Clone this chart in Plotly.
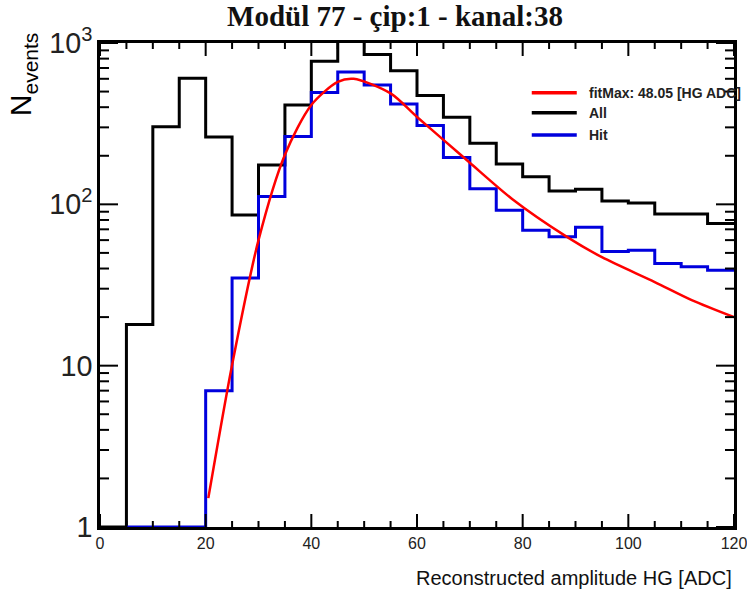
import plotly.graph_objects as go

# ---------------- data ----------------
bin_edges = [0, 5, 10, 15, 20, 25, 30, 35, 40, 45, 50, 55, 60,
             65, 70, 75, 80, 85, 90, 95, 100, 105, 110, 115, 120]

# None = bin not drawn, 0 = empty bin (drawn on the floor of the log axis)
all_counts = [0, 18, 303, 605, 261, 86, 175, 413, 770, 1150, 850, 674,
              472, 347, 239, 178, 148, 121, 124, 105, 102, 87, 87, 76]

hit_counts = [None, 0, 0, 0, 7, 35, 112, 263, 493, 660, 550, 419,
              308, 195, 125, 92, 69, 63, 72, 51, 52, 43, 41, 39]

fit_x = [20.5, 25, 30, 35, 40, 45, 48, 55, 60, 65, 70, 78, 88, 95, 105, 112, 120]
fit_y = [1.51, 10.1, 60, 203, 413, 574, 600, 487, 348, 251, 181, 108, 64, 47,
         33, 25.5, 20]

x_major_ticks = [0, 20, 40, 60, 80, 100, 120]
x_minor_ticks = [5, 10, 15, 25, 30, 35, 45, 50, 55, 65, 70, 75, 85, 90, 95,
                 105, 110, 115]
y_major_ticks = [1, 10, 100, 1000]
y_minor_ticks = [2, 3, 4, 5, 6, 7, 8, 9, 20, 30, 40, 50, 60, 70, 80, 90,
                 200, 300, 400, 500, 600, 700, 800, 900]

legend_labels = ["fitMax: 48.05 [HG ADC]", "All", "Hit"]
title_text = "Modül 77 - çip:1 - kanal:38"
x_title = "Reconstructed amplitude HG [ADC]"
y_title = "N<sub>events</sub>"

X_MIN, X_MAX = 0, 120
Y_MIN, Y_MAX = 1, 1000          # log axis: 10^0 .. 10^3
Y_DECADES = 3
Y_FLOOR = Y_MIN                 # empty bins are drawn on the floor

W, H = 747, 596
M_L, M_R, M_T, M_B = 100, 13, 43, 69
PLOT_W = W - M_L - M_R
PLOT_H = H - M_T - M_B


def step(counts):
    ys = [None if c is None else (c if c > 0 else Y_FLOOR) for c in counts]
    return bin_edges, ys + [ys[-1]]


fig = go.Figure()

ax_, ay_ = step(all_counts)
fig.add_trace(go.Scatter(x=ax_, y=ay_, mode="lines", line_shape="hv",
                         line=dict(color="black", width=3), name="All",
                         hoverinfo="skip"))
hx, hy = step(hit_counts)
fig.add_trace(go.Scatter(x=hx, y=hy, mode="lines", line_shape="hv",
                         line=dict(color="#0000dd", width=3), name="Hit",
                         hoverinfo="skip"))
fig.add_trace(go.Scatter(x=fit_x, y=fit_y, mode="lines", line_shape="spline",
                         line=dict(color="#ff0000", width=2.5, smoothing=0.8),
                         name="fit", hoverinfo="skip"))

# ---------------- ROOT-style inside ticks on all four sides ----------------
# (drawn as one line trace in data space; lengths given in pixels)
tick_x, tick_y = [], []
for vals, length in ((x_major_ticks, 13), (x_minor_ticks, 6)):
    k = 10 ** (length * Y_DECADES / PLOT_H)
    for v in vals:
        tick_x += [v, v, None, v, v, None]
        tick_y += [Y_MIN, Y_MIN * k, None, Y_MAX / k, Y_MAX, None]
for vals, length in ((y_major_ticks, 18), (y_minor_ticks, 9)):
    d = length * (X_MAX - X_MIN) / PLOT_W
    for v in vals:
        tick_x += [X_MIN, X_MIN + d, None, X_MAX - d, X_MAX, None]
        tick_y += [v, v, None, v, v, None]
fig.add_trace(go.Scatter(x=tick_x, y=tick_y, mode="lines",
                         line=dict(color="black", width=2),
                         hoverinfo="skip", showlegend=False, name="ticks"))

# ---------------- manual ROOT-like legend ----------------
leg_colors = ["#ff0000", "black", "#0000dd"]
leg_y = [0.897, 0.856, 0.810]
for lab, col, yy in zip(legend_labels, leg_colors, leg_y):
    fig.add_shape(type="line", xref="paper", yref="paper",
                  x0=0.681, x1=0.752, y0=yy, y1=yy,
                  line=dict(color=col, width=3.5))
    fig.add_annotation(xref="paper", yref="paper", x=0.768, y=yy,
                       xanchor="left", yanchor="middle", showarrow=False,
                       text="<b>" + lab + "</b>",
                       font=dict(family="Liberation Sans", size=14,
                                 color="#222222"))

# axis titles
fig.add_annotation(xref="paper", yref="paper", x=1.0, y=-0.105,
                   xanchor="right", yanchor="middle", showarrow=False,
                   text=x_title,
                   font=dict(family="Liberation Sans", size=20, color="#111111"))
fig.add_annotation(xref="paper", yref="paper", x=-0.121, y=1.027,
                   xanchor="center", yanchor="top", showarrow=False,
                   textangle=-90, text=y_title,
                   font=dict(family="Liberation Sans", size=30, color="black"))

fig.update_layout(
    width=W, height=H,
    margin=dict(l=M_L, r=M_R, t=M_T, b=M_B, autoexpand=False),
    plot_bgcolor="white", paper_bgcolor="white",
    showlegend=False,
    title=dict(text="<b>" + title_text + "</b>", x=395 / W, xanchor="center",
               y=1 - 16 / H, yanchor="middle",
               font=dict(family="Liberation Serif", size=29, color="#111111")),
    xaxis=dict(range=[X_MIN, X_MAX], tickmode="array", tickvals=x_major_ticks,
               ticks="", showline=True, linewidth=3, linecolor="black",
               mirror=True, showgrid=False, zeroline=False, automargin=False,
               ticklabeloverflow="allow",
               tickfont=dict(family="Liberation Sans", size=16, color="#222222")),
    yaxis=dict(type="log", range=[0, Y_DECADES], tickmode="linear", tick0=0,
               dtick=1, exponentformat="power", ticks="",
               showline=True, linewidth=3, linecolor="black", mirror=True,
               showgrid=False, zeroline=False, automargin=False,
               ticklabeloverflow="allow",
               tickfont=dict(family="Liberation Sans", size=23, color="#222222")),
)

fig.write_html("out.html")
